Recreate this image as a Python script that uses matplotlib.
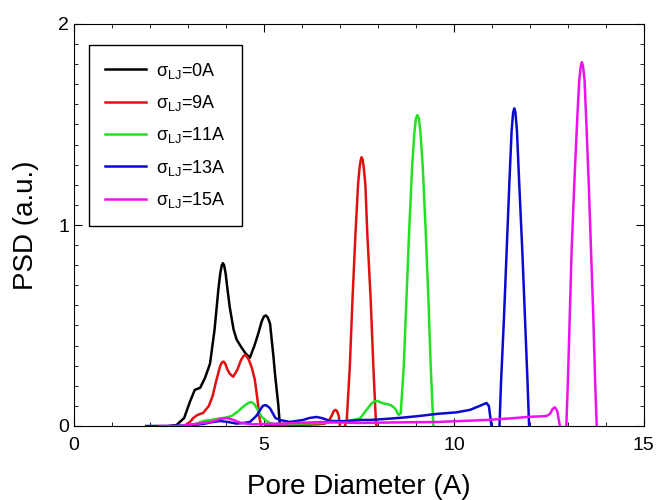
"""Pore size distribution for several LJ sigma values (recreated figure)."""
import matplotlib
matplotlib.use("Agg")
import matplotlib.pyplot as plt
from matplotlib.ticker import MultipleLocator

plt.rcParams["font.family"] = ["Liberation Sans", "DejaVu Sans"]
plt.rcParams["mathtext.fontset"] = "custom"
plt.rcParams["mathtext.rm"] = "Liberation Sans"
plt.rcParams["mathtext.it"] = "Liberation Sans"
plt.rcParams["mathtext.default"] = "regular"

# values (pore diameter in A, PSD in a.u.)
x_0 = [2.5, 2.7, 2.9, 3.05, 3.18, 3.32, 3.45, 3.58, 3.7, 3.8, 3.85, 3.89, 3.92,
       3.95, 3.99, 4.04, 4.1, 4.2, 4.28, 4.41, 4.52, 4.63, 4.75, 4.85, 4.94,
       5.0, 5.05, 5.1, 5.16, 5.25, 5.29, 5.38, 5.42]
y_0 = [0.0, 0.005, 0.04, 0.12, 0.18, 0.19, 0.24, 0.31, 0.48, 0.68, 0.76, 0.8,
       0.81, 0.8, 0.76, 0.68, 0.59, 0.48, 0.43, 0.39, 0.36, 0.34, 0.4, 0.46,
       0.52, 0.545, 0.55, 0.54, 0.51, 0.345, 0.26, 0.1, 0.0]

x_9 = [2.9, 3.05, 3.14, 3.25, 3.4, 3.55, 3.65, 3.75, 3.85, 3.9, 3.94, 3.98,
       4.04, 4.1, 4.19, 4.3, 4.4, 4.46, 4.5, 4.54, 4.6, 4.68, 4.76, 4.83,
       4.89, 4.95, 5.05, 5.3, 5.6, 6.0, 6.4, 6.6, 6.69, 6.78, 6.84, 6.88,
       6.92, 6.97, 7.0, 7.08, 7.13, 7.18, 7.26, 7.33, 7.41, 7.48, 7.52, 7.55,
       7.57, 7.6, 7.63, 7.67, 7.72, 7.81, 7.88, 7.95, 8.0]
y_9 = [0.0, 0.02, 0.04, 0.055, 0.065, 0.1, 0.15, 0.23, 0.3, 0.318, 0.32,
       0.31, 0.28, 0.26, 0.245, 0.28, 0.33, 0.348, 0.353, 0.348, 0.33, 0.29,
       0.23, 0.13, 0.03, -0.02, 0.0, 0.005, 0.005, 0.006, 0.008, 0.012, 0.02,
       0.05, 0.075, 0.08, 0.075, 0.05, 0.0, -0.02, 0.0, 0.03, 0.295, 0.627,
       0.96, 1.21, 1.29, 1.325, 1.337, 1.325, 1.28, 1.2, 0.96, 0.627, 0.295,
       0.01, -0.02]

x_11 = [2.9, 3.2, 3.4, 3.6, 3.84, 4.0, 4.15, 4.3, 4.45, 4.55, 4.62, 4.68,
        4.74, 4.84, 4.94, 5.1, 5.25, 5.5, 6.0, 6.5, 7.0, 7.35, 7.53, 7.7,
        7.82, 7.9, 7.95, 8.02, 8.1, 8.2, 8.27, 8.34, 8.4, 8.48, 8.52, 8.55,
        8.6, 8.68, 8.75, 8.82, 8.9, 8.96, 9.0, 9.04, 9.08, 9.12, 9.18, 9.26,
        9.33, 9.39, 9.46, 9.5]
y_11 = [0.0, 0.01, 0.025, 0.03, 0.038, 0.042, 0.05, 0.07, 0.095, 0.11, 0.117,
        0.118, 0.11, 0.08, 0.046, 0.02, 0.01, 0.01, 0.012, 0.015, 0.02, 0.03,
        0.038, 0.08, 0.11, 0.122, 0.124, 0.122, 0.115, 0.11, 0.108, 0.103,
        0.096, 0.08, 0.062, 0.055, 0.063, 0.295, 0.627, 0.96, 1.29, 1.46,
        1.53, 1.547, 1.53, 1.46, 1.29, 0.96, 0.627, 0.295, 0.0, -0.02]

x_13 = [1.9, 2.5, 3.0, 3.4, 3.6, 3.84, 4.05, 4.28, 4.45, 4.63, 4.8, 4.9,
        4.97, 5.04, 5.1, 5.16, 5.3, 5.42, 5.68, 6.03, 6.2, 6.39, 6.55, 6.74,
        7.09, 7.6, 7.79, 8.2, 8.67, 9.1, 9.54, 10.07, 10.42, 10.68, 10.8,
        10.86, 10.92, 10.99, 11.05, 11.15, 11.2, 11.24, 11.32, 11.39, 11.46,
        11.52, 11.56, 11.59, 11.62, 11.66, 11.72, 11.8, 11.87, 11.94, 11.98,
        12.02]
y_13 = [0.0, 0.0, 0.003, 0.01, 0.018, 0.025, 0.02, 0.012, 0.015, 0.02, 0.05,
        0.08, 0.1, 0.104, 0.098, 0.088, 0.04, 0.03, 0.02, 0.03, 0.04, 0.045,
        0.038, 0.025, 0.024, 0.03, 0.03, 0.035, 0.042, 0.05, 0.06, 0.068,
        0.08, 0.1, 0.11, 0.114, 0.1, 0.0, -0.03, -0.03, 0.0, 0.212, 0.544,
        0.876, 1.207, 1.47, 1.56, 1.58, 1.56, 1.47, 1.207, 0.876, 0.544,
        0.212, 0.0, -0.03]

x_15 = [2.26, 2.8, 3.2, 3.6, 3.85, 4.02, 4.2, 4.4, 4.7, 5.0, 5.5, 6.5, 7.5,
        8.5, 9.54, 10.86, 11.5, 12.0, 12.3, 12.44, 12.53, 12.6, 12.66, 12.72,
        12.79, 12.85, 12.96, 13.0, 13.05, 13.1, 13.17, 13.25, 13.3, 13.34,
        13.37, 13.4, 13.44, 13.48, 13.55, 13.61, 13.67, 13.72, 13.76, 13.8]
y_15 = [0.0, 0.0, 0.01, 0.02, 0.035, 0.04, 0.03, 0.015, 0.008, 0.01, 0.012,
        0.02, 0.015, 0.018, 0.02, 0.03, 0.038, 0.046, 0.048, 0.05, 0.06, 0.085,
        0.093, 0.075, 0.0, -0.03, 0.0, 0.212, 0.544, 0.876, 1.207, 1.54, 1.72,
        1.79, 1.81, 1.79, 1.72, 1.54, 1.207, 0.876, 0.544, 0.212, 0.0, -0.03]

SERIES = [
    (x_0, y_0, r"$\sigma_{LJ}$=0A", "black"),
    (x_9, y_9, r"$\sigma_{LJ}$=9A", "#e01010"),
    (x_11, y_11, r"$\sigma_{LJ}$=11A", "#22e022"),
    (x_13, y_13, r"$\sigma_{LJ}$=13A", "#0a0ad0"),
    (x_15, y_15, r"$\sigma_{LJ}$=15A", "#ee10ee"),
]

fig = plt.figure(figsize=(6.61, 5.0), dpi=100)
ax = fig.add_axes([0.112, 0.148, 0.862, 0.804])

for xs, ys, lab, col in SERIES:
    ax.plot(xs, ys, color=col, lw=1.8, label=lab, solid_joinstyle="round")

ax.set_xlim(0, 15)
ax.set_ylim(0, 2)
ax.xaxis.set_major_locator(MultipleLocator(5))
ax.xaxis.set_minor_locator(MultipleLocator(1))
ax.yaxis.set_major_locator(MultipleLocator(1))
ax.yaxis.set_minor_locator(MultipleLocator(0.1))
ax.tick_params(which="both", direction="in", top=True, right=True, labelsize=14)
ax.tick_params(which="major", length=6)
ax.tick_params(which="minor", length=3)
ax.tick_params(axis="x", pad=8)

ax.set_xlabel("Pore Diameter (A)", fontsize=20, labelpad=14)
ax.set_ylabel("PSD (a.u.)", fontsize=20, labelpad=14)

leg = ax.legend(loc="upper left", bbox_to_anchor=(0.026, 0.948), borderaxespad=0,
                fontsize=13, handlelength=2.3, labelspacing=0.68,
                fancybox=False, edgecolor="black", framealpha=1,
                borderpad=0.88, handletextpad=0.55)
leg.get_frame().set_linewidth(1.0)

fig.savefig("out.png", dpi=100)
